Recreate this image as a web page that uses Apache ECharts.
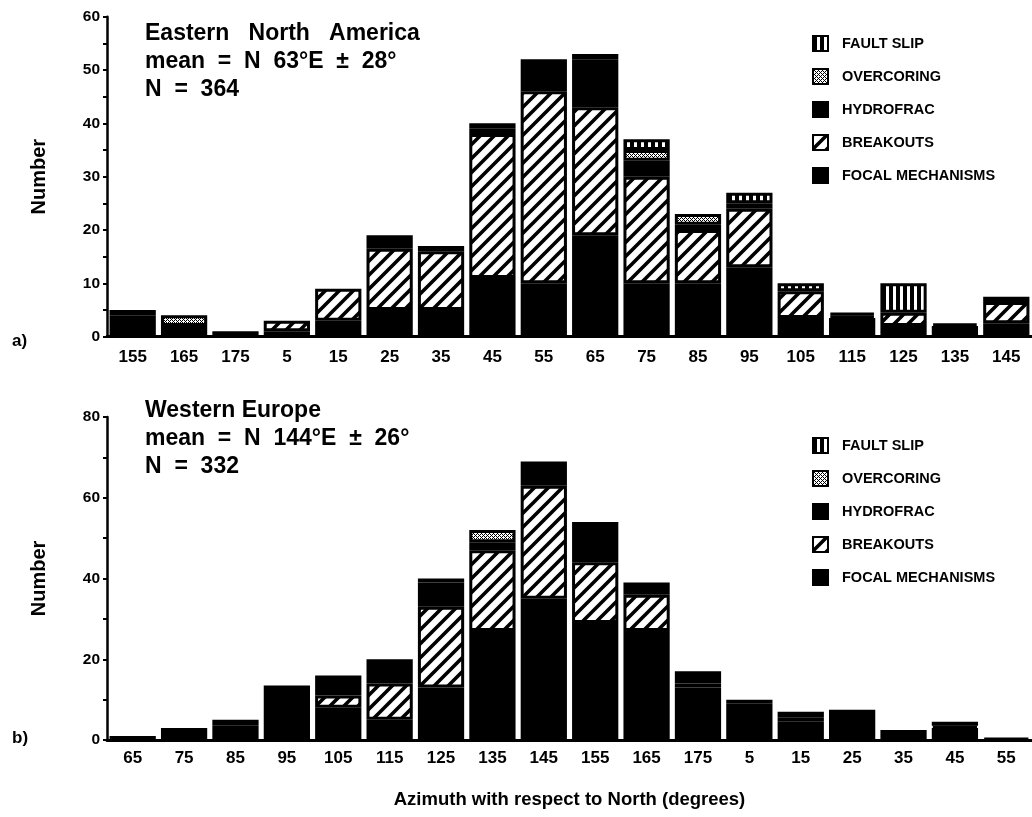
<!DOCTYPE html>
<html><head><meta charset="utf-8">
<script src="https://cdn.jsdelivr.net/npm/echarts/dist/echarts.min.js"></script>
<style>html,body{margin:0;padding:0;background:#fff}#c{width:1032px;height:817px}</style>
</head><body><div id="c"></div>
<script>
// ---------- data ----------
const seriesNames = ['FOCAL MECHANISMS', 'BREAKOUTS', 'HYDROFRAC', 'OVERCORING', 'FAULT SLIP'];
const legendOrder = ['FAULT SLIP', 'OVERCORING', 'HYDROFRAC', 'BREAKOUTS', 'FOCAL MECHANISMS'];

// a) Eastern North America
const catsA = ['155','165','175','5','15','25','35','45','55','65','75','85','95','105','115','125','135','145'];
const focalA     = [4, 2, 1, 1, 3, 5, 5, 11, 10, 19, 10, 10, 13, 3.5, 3.5, 2, 2, 2.5];
const breakoutsA = [1, 0, 0, 2, 6, 11.5, 11, 27, 36, 24, 20, 10, 11, 5, 0.5, 2.5, 0.5, 4];
const hydroA     = [0, 0, 0, 0, 0, 2.5, 0, 1, 6, 9, 3, 1, 1, 0, 0.5, 0, 0, 1];
const overA      = [0, 2, 0, 0, 0, 0, 1, 1, 0, 0, 2, 2, 0, 0, 0, 0, 0, 0];
const faultA     = [0, 0, 0, 0, 0, 0, 0, 0, 0, 1, 2, 0, 2, 1.5, 0, 5.5, 0, 0];

// b) Western Europe
const catsB = ['65','75','85','95','105','115','125','135','145','155','165','175','5','15','25','35','45','55'];
const focalB     = [1, 3, 2.5, 13.5, 8, 5, 13, 27, 35, 29, 27, 13, 9, 4.5, 7.5, 2.5, 3, 0.5];
const breakoutsB = [0, 0, 1, 0, 3, 9, 20, 20, 28, 15, 9, 1, 0, 1, 0, 0, 0.5, 0];
const hydroB     = [0, 0, 1.5, 0, 5, 6, 6, 2, 6, 9, 3, 3, 0, 1.5, 0, 0, 1, 0];
const overB      = [0, 0, 0, 0, 0, 0, 1, 3, 0, 0, 0, 0, 1, 0, 0, 0, 0, 0];
const faultB     = [0, 0, 0, 0, 0, 0, 0, 0, 0, 1, 0, 0, 0, 0, 0, 0, 0, 0];

const titleA = ['Eastern   North   America', 'mean  =  N  63°E  ±  28°', 'N  =  364'];
const titleB = ['Western Europe', 'mean  =  N  144°E  ±  26°', 'N  =  332'];

// ---------- fill patterns ----------
function canvasOf(w, h, draw) {
  const c = document.createElement('canvas');
  c.width = w; c.height = h;
  draw(c.getContext('2d'));
  return { image: c, repeat: 'repeat' };
}
const hatchFill = canvasOf(14, 14, g => {
  g.fillStyle = '#fff'; g.fillRect(0, 0, 14, 14);
  g.strokeStyle = '#000'; g.lineWidth = 3.6; g.lineCap = 'square';
  g.beginPath();
  g.moveTo(-2, 16); g.lineTo(16, -2);
  g.moveTo(-9, 9); g.lineTo(9, -9);
  g.moveTo(5, 23); g.lineTo(23, 5);
  g.stroke();
});
const stippleFill = canvasOf(4, 4, g => {
  g.fillStyle = '#fff'; g.fillRect(0, 0, 4, 4);
  g.fillStyle = '#000';
  [[0,0],[2,0],[1,1],[0,2],[2,2],[3,3]].forEach(p => g.fillRect(p[0], p[1], 1, 1));
});
const faultFill = canvasOf(7, 4, g => {
  g.fillStyle = '#000'; g.fillRect(0, 0, 7, 4);
  g.fillStyle = '#fff'; g.fillRect(4, 0, 3, 4);
});
const fills = { 'FOCAL MECHANISMS': '#000', 'BREAKOUTS': hatchFill, 'HYDROFRAC': '#000', 'OVERCORING': stippleFill, 'FAULT SLIP': faultFill };

// ---------- option ----------
const bold = "'Liberation Sans', Arial, Helvetica, sans-serif";

function mkSeries(name, data, gi) {
  return {
    type: 'bar', name, stack: 's' + gi, xAxisIndex: gi, yAxisIndex: gi,
    data: data.map(v => (v === 0 ? null : v)),
    barCategoryGap: '10%',
    itemStyle: { color: fills[name], borderColor: '#000', borderWidth: 3 },
    emphasis: { disabled: true }
  };
}
const dataA = [focalA, breakoutsA, hydroA, overA, faultA];
const dataB = [focalB, breakoutsB, hydroB, overB, faultB];
const series = [];
seriesNames.forEach((n, i) => series.push(mkSeries(n, dataA[i], 0)));
seriesNames.forEach((n, i) => series.push(mkSeries(n, dataB[i], 1)));

function xAxisOf(cats, gi) {
  return {
    type: 'category', gridIndex: gi, data: cats,
    axisLine: { lineStyle: { color: '#000', width: 3 } },
    axisTick: { alignWithLabel: true, length: 5, lineStyle: { color: '#000', width: 2 } },
    axisLabel: { color: '#000', fontWeight: 'bold', fontFamily: bold, fontSize: 17, margin: gi === 0 ? 12 : 10 },
    splitLine: { show: false }
  };
}
function yAxisOf(gi, max, interval) {
  return {
    type: 'value', gridIndex: gi, min: 0, max, interval,
    name: 'Number', nameLocation: 'middle', nameRotate: 90, nameGap: 58,
    nameTextStyle: { color: '#000', fontWeight: 'bold', fontFamily: bold, fontSize: 20 },
    axisLine: { show: true, lineStyle: { color: '#000', width: 2.5 } },
    axisTick: { show: true, length: 4, lineStyle: { color: '#000', width: 2 } },
    minorTick: { show: true, splitNumber: 2, length: 4, lineStyle: { color: '#000', width: 2 } },
    axisLabel: { color: '#000', fontWeight: 'bold', fontFamily: bold, fontSize: 15.5, margin: 7 },
    splitLine: { show: false }, minorSplitLine: { show: false }
  };
}
function legendOf(top) {
  return {
    orient: 'vertical', left: 812, top, padding: 0,
    itemWidth: 15, itemHeight: 15, itemGap: 16, icon: 'rect',
    data: legendOrder, selectedMode: false,
    textStyle: { color: '#000', fontFamily: bold, fontWeight: 'bold', fontSize: 14.5, padding: [0, 0, 0, 9] }
  };
}
function titleOf(lines, top) {
  return {
    text: lines.join('\n'), left: 145, top, padding: 0,
    textStyle: { color: '#000', fontFamily: bold, fontWeight: 'bold', fontSize: 23, lineHeight: 28 }
  };
}

const option = {
  animation: false,
  backgroundColor: '#fff',
  title: [
    titleOf(titleA, 20),
    titleOf(titleB, 397),
    { text: 'a)', left: 12, top: 333, padding: 0, textStyle: { color: '#000', fontFamily: bold, fontWeight: 'bold', fontSize: 17 } },
    { text: 'b)', left: 12, top: 730, padding: 0, textStyle: { color: '#000', fontFamily: bold, fontWeight: 'bold', fontSize: 17 } }
  ],
  legend: [legendOf(35), legendOf(437)],
  grid: [
    { left: 107, right: -4, top: 16.7, height: 320, containLabel: false },
    { left: 107, right: -4, top: 417, height: 323, containLabel: false }
  ],
  xAxis: [
    xAxisOf(catsA, 0),
    Object.assign(xAxisOf(catsB, 1), {
      name: 'Azimuth with respect to North (degrees)', nameLocation: 'middle', nameGap: 50,
      nameTextStyle: { color: '#000', fontWeight: 'bold', fontFamily: bold, fontSize: 18.5 }
    })
  ],
  yAxis: [yAxisOf(0, 60, 10), yAxisOf(1, 80, 20)],
  series
};
const chart = echarts.init(document.getElementById('c'), null, { renderer: 'canvas' });
chart.setOption(option);
</script>
</body></html>
